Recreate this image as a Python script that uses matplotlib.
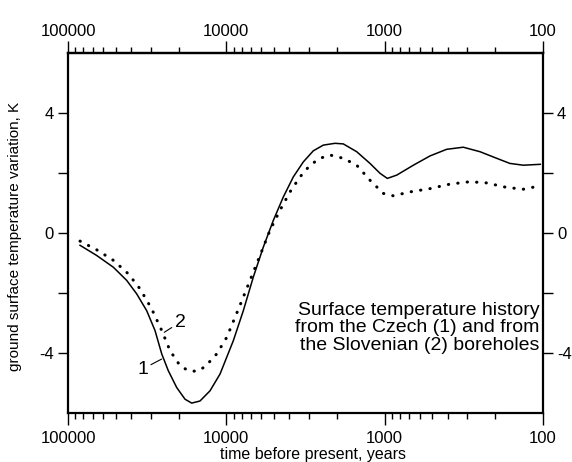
import matplotlib.pyplot as plt
from matplotlib.ticker import LogLocator, NullFormatter, FixedLocator, FuncFormatter

plt.rcParams['font.family'] = ['Liberation Sans', 'DejaVu Sans']

# curve 1: Czech boreholes (solid)
years_1 = [83950, 65860, 51750, 42590, 36820, 31840, 28220, 25590, 23260, 20590,
           18240, 16550, 14670, 12680, 10960, 9036, 7813, 6756, 5841, 5050,
           4368, 3776, 3265, 2823, 2441, 2059, 1825, 1502, 1238, 1070,
           962, 839, 659, 517, 406, 319, 250, 196, 162, 133, 104]
temp_1 = [-0.40, -0.74, -1.13, -1.57, -2.02, -2.58, -3.24, -4.02, -4.58, -5.14,
          -5.53, -5.66, -5.59, -5.25, -4.69, -3.58, -2.58, -1.46, -0.46, 0.43,
          1.21, 1.88, 2.38, 2.75, 2.94, 3.00, 2.98, 2.72, 2.33, 2.00,
          1.83, 1.94, 2.27, 2.58, 2.80, 2.87, 2.72, 2.50, 2.33, 2.27, 2.30]

# curve 2: Slovenian boreholes (dotted)
years_2 = [83950, 65860, 51750, 41610, 35100, 29610, 25590, 22690, 19620, 17390,
           15390, 13640, 11500, 9947, 8200, 7088, 6130, 5300, 4581, 3962,
           3425, 2961, 2561, 2214, 1825, 1502, 1238, 1020, 882, 692,
           517, 387, 289, 227, 170, 133, 112]
temp_2 = [-0.26, -0.55, -0.90, -1.35, -1.85, -2.52, -3.24, -3.91, -4.41, -4.58,
          -4.60, -4.45, -4.02, -3.47, -2.40, -1.57, -0.74, 0.10, 0.77, 1.38,
          1.88, 2.27, 2.50, 2.61, 2.50, 2.27, 1.77, 1.33, 1.25, 1.38,
          1.49, 1.64, 1.72, 1.68, 1.53, 1.47, 1.55]

x_ticks = [100000, 10000, 1000, 100]
y_ticks = [-4, -2, 0, 2, 4]
y_labeled = [-4, 0, 4]

fig = plt.figure(figsize=(5.72, 4.62), dpi=100)
ax = fig.add_axes([0.1189, 0.1054, 0.8304, 0.7792])

ax.plot(years_1, temp_1, color='black', lw=1.1)
ax.plot(years_2, temp_2, color='black', lw=2.2, linestyle=(0, (0.1, 3.0)),
        dash_capstyle='round')

ax.set_xscale('log')
ax.set_xlim(100000, 100)
ax.set_ylim(-6, 6)


def setup_log_axis(xaxis):
    xaxis.set_major_locator(FixedLocator(x_ticks))
    xaxis.set_minor_locator(LogLocator(base=10, subs=range(2, 10), numticks=20))
    xaxis.set_minor_formatter(NullFormatter())
    xaxis.set_major_formatter(FuncFormatter(lambda v, p: f"{int(round(v))}"))


setup_log_axis(ax.xaxis)

ax.yaxis.set_major_locator(FixedLocator(y_ticks))
ax.yaxis.set_major_formatter(FuncFormatter(
    lambda v, p: (f"{int(v)}" if int(round(v)) in y_labeled else "")))

ax.tick_params(axis='both', which='both', direction='out', right=True,
               labelright=True, width=1.0, labelsize=12)
ax.tick_params(axis='x', which='major', length=8.5, pad=4)
ax.tick_params(axis='x', which='minor', length=4)
ax.tick_params(axis='y', which='major', length=7, pad=3)

# top axis with its own padding
top = ax.secondary_xaxis('top')
setup_log_axis(top.xaxis)
top.tick_params(axis='x', which='both', direction='out', width=1.0, labelsize=12)
top.tick_params(axis='x', which='major', length=8.5, pad=1.5)
top.tick_params(axis='x', which='minor', length=4)
top.spines['top'].set_linewidth(1.6)

for sp in ax.spines.values():
    sp.set_linewidth(1.6)

ax.set_xlabel('time before present, years', fontsize=11.5)
ax.xaxis.set_label_coords(0.516, -0.094)
ax.set_ylabel('ground surface temperature variation, K', fontsize=11)
ax.yaxis.set_label_coords(-0.097, 0.49)

ax.annotate('1', xy=(25590, -4.19), xytext=(-13.7, -7.2), textcoords='offset points',
            fontsize=14, ha='center', va='center',
            arrowprops=dict(arrowstyle='-', lw=0.8, color='black', shrinkA=0, shrinkB=0))
ax.annotate('2', xy=(24660, -3.30), xytext=(11.3, 7.2), textcoords='offset points',
            fontsize=14, ha='center', va='center',
            arrowprops=dict(arrowstyle='-', lw=0.8, color='black', shrinkA=0, shrinkB=0))

ax.text(0.992, 0.237, 'Surface temperature history\nfrom the Czech (1) and from\nthe Slovenian (2) boreholes',
        transform=ax.transAxes, ha='right', va='center', fontsize=14,
        linespacing=1.05)

fig.savefig('out.png', dpi=100)
